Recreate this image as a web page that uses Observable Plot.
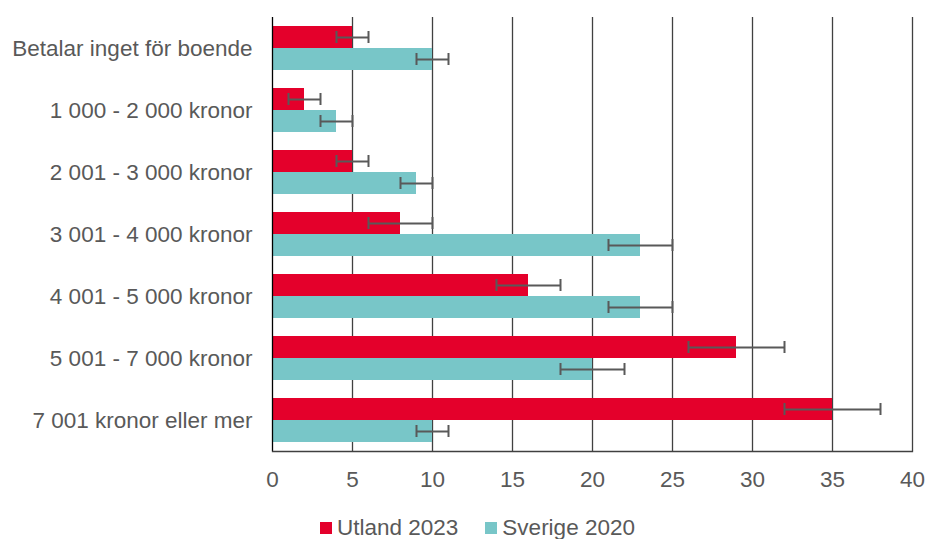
<!DOCTYPE html>
<html>
<head>
<meta charset="utf-8">
<script src="https://cdn.jsdelivr.net/npm/d3@7"></script>
<script src="https://cdn.jsdelivr.net/npm/@observablehq/plot@0.6"></script>
<style>
  html, body { margin: 0; padding: 0; background: #fff; }
  #wrap { position: relative; width: 925px; height: 539px; font-family: "Liberation Sans", Arial, sans-serif; }
  #legend { position: absolute; left: 320px; top: 516px; height: 24px; display: flex; align-items: center; font-size: 22.5px; color: #595959; line-height: 24px; }
  .sw { width: 12px; height: 12px; display: inline-block; margin-right: 5px; }
  .item { display: flex; align-items: center; margin-right: 27px; }
</style>
</head>
<body>
<div id="wrap"><div id="chart"></div><div id="legend"></div></div>
<script>
const categories = [
  "Betalar inget för boende",
  "1 000 - 2 000 kronor",
  "2 001 - 3 000 kronor",
  "3 001 - 4 000 kronor",
  "4 001 - 5 000 kronor",
  "5 001 - 7 000 kronor",
  "7 001 kronor eller mer"
];
const seriesNames = ["Utland 2023", "Sverige 2020"];
const seriesColors = ["#E4002B", "#78C6C8"];
const utland    = [5, 2, 5, 8, 16, 29, 35];
const utlandLo  = [4, 1, 4, 6, 14, 26, 32];
const utlandHi  = [6, 3, 6, 10, 18, 32, 38];
const sverige   = [10, 4, 9, 23, 23, 20, 10];
const sverigeLo = [9, 3, 8, 21, 21, 18, 9];
const sverigeHi = [11, 5, 10, 25, 25, 22, 11];
const xTicks = [0, 5, 10, 15, 20, 25, 30, 35, 40];

const dataU = categories.map((c, i) => ({cat: c, v: utland[i], lo: utlandLo[i], hi: utlandHi[i]}));
const dataS = categories.map((c, i) => ({cat: c, v: sverige[i], lo: sverigeLo[i], hi: sverigeHi[i]}));

const errColor = "#595959";

const chart = Plot.plot({
  width: 925,
  height: 505,
  marginLeft: 272,
  marginRight: 13,
  marginTop: 17,
  marginBottom: 54,
  style: {fontSize: "22.5px", fontFamily: "'Liberation Sans', Arial, sans-serif", color: "#595959", background: "#fff"},
  x: {domain: [0, 40], ticks: xTicks, tickSize: 0, tickPadding: 20, label: null},
  y: {domain: categories, type: "band", padding: 0, tickSize: 0, tickPadding: 20, label: null},
  marks: [
    Plot.ruleX(xTicks.slice(1), {stroke: "#404040", strokeWidth: 1.3}),
    Plot.barX(dataU, {x: "v", y: "cat", fill: seriesColors[0], insetTop: 9, insetBottom: 31}),
    Plot.barX(dataS, {x: "v", y: "cat", fill: seriesColors[1], insetTop: 31, insetBottom: 9}),
    Plot.ruleX([0], {stroke: "#000", strokeWidth: 1.3}),
    Plot.frame({anchor: "bottom", stroke: "#404040", strokeWidth: 1.3}),
    Plot.ruleY(dataU, {y: "cat", x1: "lo", x2: "hi", dy: -11, stroke: errColor, strokeWidth: 2}),
    Plot.ruleY(dataS, {y: "cat", x1: "lo", x2: "hi", dy: 11, stroke: errColor, strokeWidth: 2}),
    Plot.tickX(dataU, {x: "lo", y: "cat", insetTop: 14, insetBottom: 36, stroke: errColor, strokeWidth: 2}),
    Plot.tickX(dataU, {x: "hi", y: "cat", insetTop: 14, insetBottom: 36, stroke: errColor, strokeWidth: 2}),
    Plot.tickX(dataS, {x: "lo", y: "cat", insetTop: 36, insetBottom: 14, stroke: errColor, strokeWidth: 2}),
    Plot.tickX(dataS, {x: "hi", y: "cat", insetTop: 36, insetBottom: 14, stroke: errColor, strokeWidth: 2})
  ]
});
document.getElementById("chart").appendChild(chart);

const legend = document.getElementById("legend");
seriesNames.forEach((name, i) => {
  const item = document.createElement("span");
  item.className = "item";
  const sw = document.createElement("span");
  sw.className = "sw";
  sw.style.background = seriesColors[i];
  item.appendChild(sw);
  item.appendChild(document.createTextNode(name));
  legend.appendChild(item);
});
</script>
</body>
</html>
